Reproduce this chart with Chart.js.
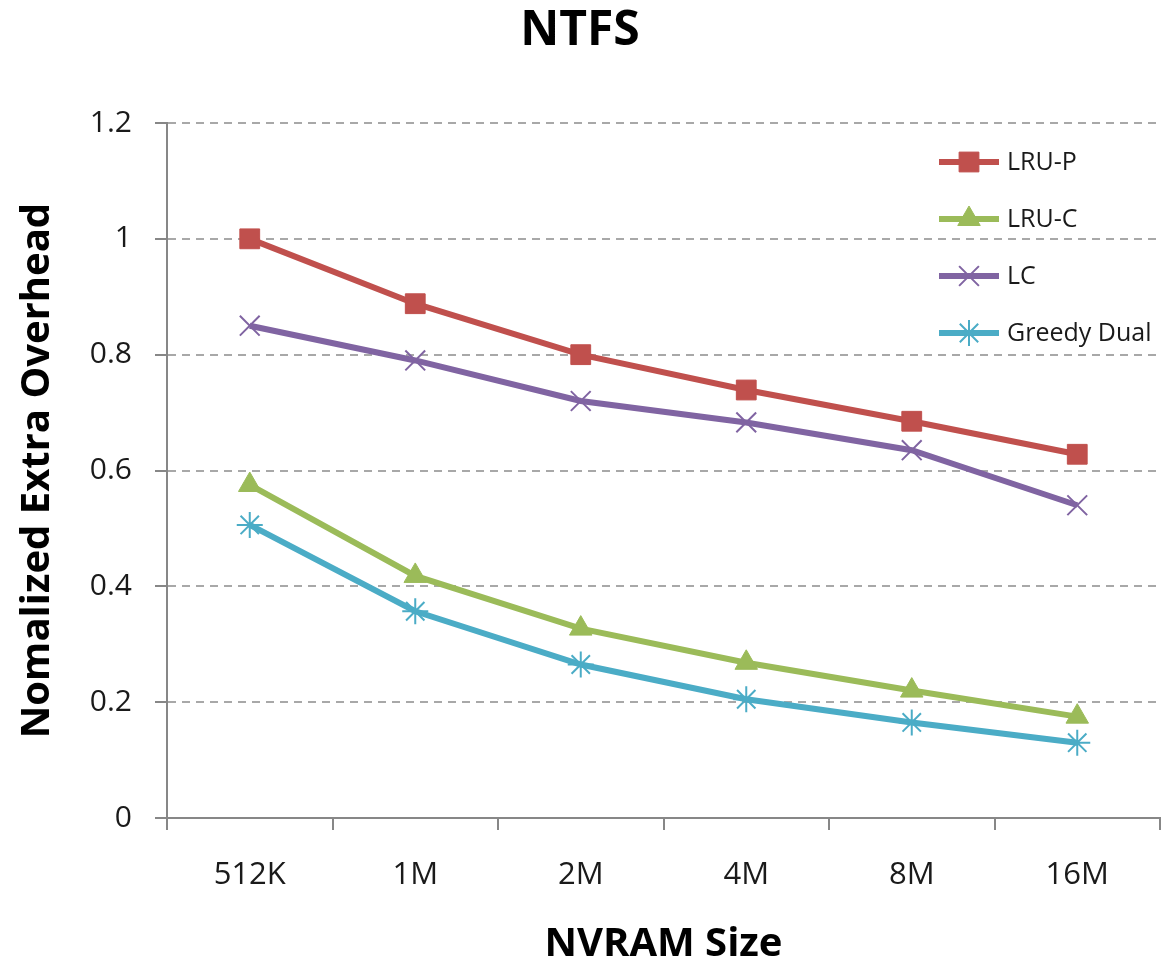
<!DOCTYPE html>
<html>
<head>
<meta charset="utf-8">
<title>NTFS</title>
<script src="https://cdn.jsdelivr.net/npm/chart.js@4"></script>
<style>
  html, body { margin: 0; padding: 0; background: #fff; }
  #wrap { width: 1162px; height: 971px; position: relative; }
</style>
</head>
<body>
<div id="wrap"><canvas id="chart"></canvas></div>
<script>
// --- data ---
const sizes = ['512K', '1M', '2M', '4M', '8M', '16M'];
const lruP = [1.0, 0.888, 0.80, 0.739, 0.685, 0.628];
const lruC = [0.575, 0.418, 0.327, 0.268, 0.22, 0.175];
const lc = [0.85, 0.79, 0.72, 0.683, 0.635, 0.54];
const greedyDual = [0.506, 0.357, 0.265, 0.205, 0.165, 0.13];
const yTicks = [0, 0.2, 0.4, 0.6, 0.8, 1, 1.2];

Chart.defaults.font.family = "'Open Sans', 'DejaVu Sans', sans-serif";
Chart.defaults.color = '#1a1a1a';

const axisGrey = '#878787';

// legend drawn inside the plot, line sample + marker like the original
const insideLegend = {
  id: 'insideLegend',
  afterDatasetsDraw(chart) {
    const {ctx, chartArea} = chart;
    const x0 = chartArea.right - 221, x1 = chartArea.right - 161;
    const tx = chartArea.right - 153;
    let y = chartArea.top + 39;
    chart.data.datasets.forEach(ds => {
      ctx.save();
      ctx.strokeStyle = ds.borderColor;
      ctx.lineWidth = ds.borderWidth;
      ctx.beginPath();
      ctx.moveTo(x0, y);
      ctx.lineTo(x1, y);
      ctx.stroke();
      ctx.fillStyle = ds.pointBackgroundColor;
      ctx.strokeStyle = ds.pointBorderColor;
      ctx.lineWidth = ds.pointBorderWidth;
      Chart.helpers.drawPoint(ctx, {
        pointStyle: ds.pointStyle, radius: ds.pointRadius,
        rotation: 0, borderWidth: ds.pointBorderWidth
      }, (x0 + x1) / 2, y);
      ctx.fillStyle = '#1a1a1a';
      ctx.font = "25px 'Open Sans', sans-serif";
      ctx.textBaseline = 'middle';
      ctx.textAlign = 'left';
      ctx.fillText(ds.label, tx, y + 1);
      ctx.restore();
      y += 57;
    });
  }
};

function series(label, data, color, style, radius, bw) {
  return {
    label, data,
    borderColor: color, backgroundColor: color,
    borderWidth: 6,
    pointStyle: style, pointRadius: radius, pointHoverRadius: radius,
    pointBackgroundColor: color, pointBorderColor: color,
    pointBorderWidth: bw,
    tension: 0
  };
}

new Chart(document.getElementById('chart'), {
  type: 'line',
  data: {
    labels: sizes,
    datasets: [
      series('LRU-P', lruP, '#C0504D', 'rect', 14, 1),
      series('LRU-C', lruC, '#9BBB59', 'triangle', 13, 1),
      series('LC', lc, '#8064A2', 'crossRot', 14, 2),
      series('Greedy Dual', greedyDual, '#4BACC6', 'star', 13, 2)
    ]
  },
  options: {
    responsive: true,
    maintainAspectRatio: false,
    animation: false,
    layout: { autoPadding: false, padding: { right: 2 } },
    plugins: {
      legend: { display: false },
      tooltip: { enabled: false },
      title: {
        display: true, text: 'NTFS', color: '#000',
        font: { size: 48, weight: 'bold' },
        padding: { top: 3, bottom: 62.4 }
      }
    },
    scales: {
      x: {
        offset: true,
        grid: {
          offset: true, drawOnChartArea: false,
          tickLength: 12, tickColor: axisGrey, tickWidth: 2, lineWidth: 2, color: axisGrey
        },
        border: { color: axisGrey, width: 2 },
        ticks: { font: { size: 31 }, padding: 27, color: '#1a1a1a' },
        title: {
          display: true, text: 'NVRAM Size', color: '#000',
          font: { size: 40, weight: 'bold' }, padding: { bottom: 2 }
        },
        afterFit: s => { s.height = 153; }
      },
      y: {
        min: 0, max: 1.2,
        afterBuildTicks: s => { s.ticks = yTicks.map(v => ({ value: v })); },
        grid: {
          color: c => (c.tick && c.tick.value === 0) ? 'rgba(0,0,0,0)' : '#a8a8a8',
          lineWidth: 2,
          tickLength: 12, tickColor: axisGrey, tickWidth: 2, tickBorderDash: []
        },
        border: { color: axisGrey, width: 2, dash: [8, 6] },
        ticks: { font: { size: 30 }, padding: 23, color: '#1a1a1a',
                 callback: v => String(v) },
        title: {
          display: true, text: 'Nomalized Extra Overhead', color: '#000',
          font: { size: 40, weight: 'bold' }, padding: { top: 14 }
        },
        afterFit: s => { s.width = 167; }
      }
    }
  },
  plugins: [insideLegend]
});
</script>
</body>
</html>
